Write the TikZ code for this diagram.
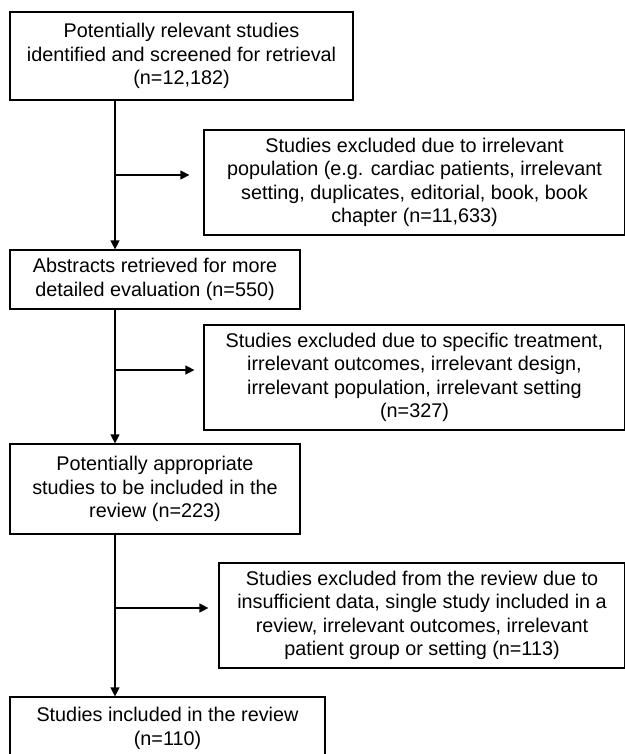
\documentclass[tikz,border=0pt]{standalone}
\usepackage{fontspec}
\setsansfont{Liberation Sans}
\usetikzlibrary{arrows.meta}

\begin{document}
\begin{tikzpicture}[x = 1pt, y = -1pt, font=\sffamily]
	\tikzstyle{boxStyle}=[draw, line width = 1.2pt, align = center, inner sep = 0pt, font = \sffamily\fontsize{19.8}{23.5}\selectfont]
	\tikzstyle{flowStyle}=[line width = 1.2pt, -{Triangle[length = 9pt, width = 9pt]}]
	\useasboundingbox (0,0) rectangle (624,754);
	% main column
	\node[boxStyle, minimum width = 343pt, minimum height = 88pt] (screened) at (181.5,56) {Potentially relevant studies\\identified and screened for retrieval\\(n=12,182)};
	\node[boxStyle, minimum width = 290pt, minimum height = 59pt] (abstracts) at (155,279.5) {Abstracts retrieved for more\\detailed evaluation (n=550)};
	\node[boxStyle, minimum width = 290pt, minimum height = 90pt] (appropriate) at (155,489) {Potentially appropriate\\studies to be included in the\\review (n=223)};
	\node[boxStyle, minimum width = 315pt, minimum height = 63pt] (included) at (167.5,728.5) {Studies included in the review\\(n=110)};
	% exclusions
	\node[boxStyle, minimum width = 421pt, minimum height = 105pt] (excluded1) at (414.5,182.5) {Studies excluded due to irrelevant\\population (e.g. cardiac patients, irrelevant\\setting, duplicates, editorial, book, book\\chapter (n=11,633)};
	\node[boxStyle, minimum width = 421pt, minimum height = 105pt] (excluded2) at (414.5,377.5) {Studies excluded due to specific treatment,\\irrelevant outcomes, irrelevant design,\\irrelevant population, irrelevant setting\\(n=327)};
	\node[boxStyle, minimum width = 406pt, minimum height = 105pt] (excluded3) at (422,615.5) {Studies excluded from the review due to\\insufficient data, single study included in a\\review, irrelevant outcomes, irrelevant\\patient group or setting (n=113)};
	\coordinate (split1) at (115,175);
	\coordinate (split2) at (115,370);
	\coordinate (split3) at (115,608);
	\draw[flowStyle] (screened.south -| split1) -- (abstracts.north -| split1);
	\draw[flowStyle] (abstracts.south -| split2) -- (appropriate.north -| split2);
	\draw[flowStyle] (appropriate.south -| split3) -- (included.north -| split3);
	\draw[flowStyle, shorten >= 14pt] (split1) -- (split1 -| excluded1.west);
	\draw[flowStyle, shorten >= 9pt] (split2) -- (split2 -| excluded2.west);
	\draw[flowStyle, shorten >= 10pt] (split3) -- (split3 -| excluded3.west);
\end{tikzpicture}
\end{document}
